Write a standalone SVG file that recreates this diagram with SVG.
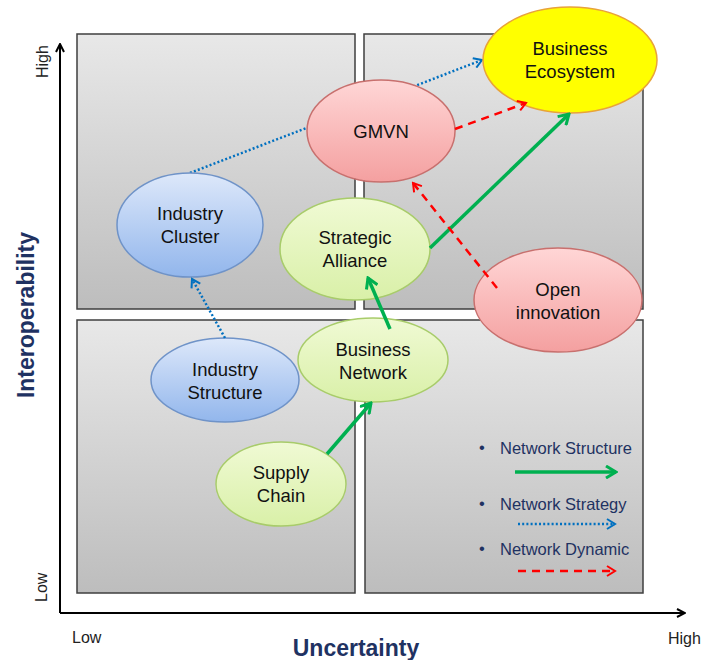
<svg xmlns="http://www.w3.org/2000/svg" width="706" height="660" viewBox="0 0 706 660">
<defs>
<linearGradient id="gq" x1="0" y1="0" x2="0" y2="1"><stop offset="0" stop-color="#E8E8E8"/><stop offset="1" stop-color="#BDBDBD"/></linearGradient>
<linearGradient id="gg" x1="0" y1="0" x2="0" y2="1"><stop offset="0" stop-color="#F0FAD4"/><stop offset="1" stop-color="#D9F0A8"/></linearGradient>
<linearGradient id="gb" x1="0" y1="0" x2="0" y2="1"><stop offset="0" stop-color="#DDE8FA"/><stop offset="1" stop-color="#92B6EC"/></linearGradient>
<linearGradient id="gr" x1="0" y1="0" x2="0" y2="1"><stop offset="0" stop-color="#FFD6D6"/><stop offset="1" stop-color="#F4A0A0"/></linearGradient>
<marker id="mk" markerWidth="10" markerHeight="10" refX="9" refY="5" orient="auto" markerUnits="userSpaceOnUse"><path d="M1,1 L9,5 L1,9" fill="none" stroke="#000" stroke-width="2"/></marker>
<marker id="mg" markerWidth="14" markerHeight="14" refX="12" refY="7" orient="auto" markerUnits="userSpaceOnUse"><path d="M2,1 L12,7 L2,13" fill="none" stroke="#00B050" stroke-width="3"/></marker>
<marker id="mb" markerWidth="12" markerHeight="12" refX="10" refY="6" orient="auto" markerUnits="userSpaceOnUse"><path d="M2,1 L10,6 L2,11" fill="none" stroke="#0070C0" stroke-width="2"/></marker>
<marker id="mr" markerWidth="12" markerHeight="12" refX="10" refY="6" orient="auto" markerUnits="userSpaceOnUse"><path d="M2,1 L10,6 L2,11" fill="none" stroke="#FF0000" stroke-width="2"/></marker>
</defs>
<style>
.q{fill:url(#gq);stroke:#3F3F3F;stroke-width:1.5}
.t{font-family:"Liberation Sans",Arial,sans-serif;font-size:18.5px;fill:#111;text-anchor:middle}
.ax{font-family:"Liberation Sans",Arial,sans-serif;font-size:16px;fill:#222}
.ti{font-family:"Liberation Sans",Arial,sans-serif;font-size:23px;font-weight:bold;fill:#1F3262;text-anchor:middle}
.lg{font-family:"Liberation Sans",Arial,sans-serif;font-size:16.5px;fill:#1F3262}
.g{fill:url(#gg);stroke:#A8CC6A;stroke-width:1.5}
.b{fill:url(#gb);stroke:#6F93C8;stroke-width:1.5}
.r{fill:url(#gr);stroke:#C8706E;stroke-width:1.5}
.cs{fill:none;stroke:#00B050;stroke-width:3.5;marker-end:url(#mg)}
.cb{fill:none;stroke:#0070C0;stroke-width:2.5;stroke-dasharray:2 2.2;marker-end:url(#mb)}
.cr{fill:none;stroke:#FF0000;stroke-width:2.5;stroke-dasharray:8 6;marker-end:url(#mr)}
</style>
<g id="quadrants">
<rect class="q" x="77" y="34" width="278" height="275"/>
<rect class="q" x="364" y="34" width="279" height="275"/>
<rect class="q" x="77" y="320" width="278" height="273"/>
<rect class="q" x="365" y="320" width="278" height="273"/>
</g>
<g id="axes">
<line x1="60" y1="613" x2="60" y2="44" stroke="#000" stroke-width="2" marker-end="url(#mk)"/>
<line x1="60" y1="613" x2="685" y2="613" stroke="#000" stroke-width="2" marker-end="url(#mk)"/>
<text class="ax" transform="translate(48,78) rotate(-90)">High</text>
<text class="ax" transform="translate(47,602) rotate(-90)">Low</text>
<text class="ax" x="72" y="643">Low</text>
<text class="ax" x="668" y="644">High</text>
<text class="ti" transform="translate(34,315) rotate(-90)">Interoperability</text>
<text class="ti" x="356" y="656">Uncertainty</text>
</g>
<g id="connectors-back">
<line class="cb" x1="190" y1="173" x2="482" y2="60"/>
</g>
<g id="business-ecosystem"><ellipse cx="570" cy="60" rx="87" ry="53" fill="#FFFF00" stroke="#E8A33A" stroke-width="1.5"/><text class="t" x="570" y="55">Business</text><text class="t" x="570" y="78">Ecosystem</text></g>
<g id="gmvn"><ellipse class="r" cx="381" cy="131" rx="74" ry="51"/><text class="t" x="381" y="138">GMVN</text></g>
<g id="industry-cluster"><ellipse class="b" cx="190" cy="225" rx="73" ry="52"/><text class="t" x="190" y="220">Industry</text><text class="t" x="190" y="243">Cluster</text></g>
<g id="strategic-alliance"><ellipse class="g" cx="355" cy="249" rx="75" ry="51"/><text class="t" x="355" y="244">Strategic</text><text class="t" x="355" y="267">Alliance</text></g>
<g id="open-innovation"><ellipse class="r" cx="558" cy="300" rx="84" ry="52"/><text class="t" x="558" y="296">Open</text><text class="t" x="558" y="319">innovation</text></g>
<g id="industry-structure"><ellipse class="b" cx="225" cy="380" rx="74" ry="42"/><text class="t" x="225" y="376">Industry</text><text class="t" x="225" y="399">Structure</text></g>
<g id="business-network"><ellipse class="g" cx="373" cy="360" rx="75" ry="42"/><text class="t" x="373" y="356">Business</text><text class="t" x="373" y="379">Network</text></g>
<g id="supply-chain"><ellipse class="g" cx="281" cy="484" rx="65" ry="42"/><text class="t" x="281" y="479">Supply</text><text class="t" x="281" y="502">Chain</text></g>
<g id="connectors">
<line class="cb" x1="225" y1="338" x2="192" y2="279"/>
<line class="cs" x1="327" y1="454" x2="371" y2="403"/>
<line class="cs" x1="390" y1="329" x2="368" y2="278"/>
<line class="cs" x1="430" y1="248" x2="569" y2="114"/>
<line class="cr" x1="455" y1="129" x2="526" y2="103"/>
<line class="cr" x1="497" y1="288" x2="413" y2="183"/>
</g>
<g id="legend">
<text class="lg" x="479" y="453">•</text><text class="lg" x="500" y="454">Network Structure</text>
<line class="cs" x1="515" y1="472" x2="616" y2="472"/>
<text class="lg" x="479" y="509">•</text><text class="lg" x="500" y="510">Network Strategy</text>
<line class="cb" x1="518" y1="524" x2="615" y2="524"/>
<text class="lg" x="479" y="554">•</text><text class="lg" x="500" y="555">Network Dynamic</text>
<line class="cr" x1="518" y1="571" x2="615" y2="571"/>
</g>
</svg>
